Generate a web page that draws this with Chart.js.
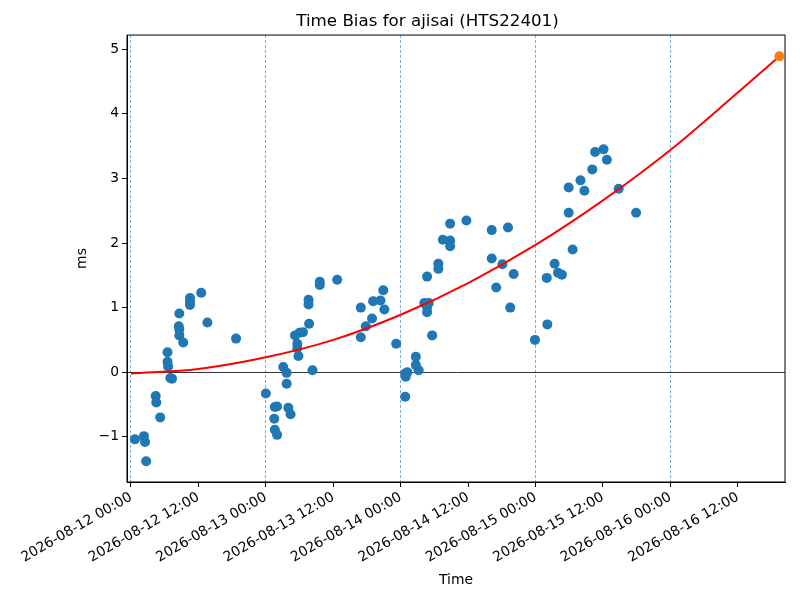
<!DOCTYPE html>
<html>
<head>
<meta charset="utf-8">
<script src="https://cdn.jsdelivr.net/npm/chart.js@4"></script>
<style>
  html, body { margin: 0; padding: 0; background: #fff; }
  #wrap { width: 800px; height: 600px; }
</style>
</head>
<body>
<div id="wrap"><canvas id="biasChart"></canvas></div>
<script>
// measured time bias samples (UTC)
const sampleTimes = [
  '2026-08-12 00:42', '2026-08-12 02:18', '2026-08-12 02:30', '2026-08-12 02:42',
  '2026-08-12 04:24', '2026-08-12 04:30', '2026-08-12 05:12', '2026-08-12 06:30',
  '2026-08-12 06:30', '2026-08-12 06:36', '2026-08-12 07:00', '2026-08-12 07:18',
  '2026-08-12 08:36', '2026-08-12 08:30', '2026-08-12 08:36', '2026-08-12 08:36',
  '2026-08-12 09:18', '2026-08-12 10:30', '2026-08-12 10:30', '2026-08-12 10:30',
  '2026-08-12 12:30', '2026-08-12 13:36', '2026-08-12 18:42',
  '2026-08-13 00:00', '2026-08-13 01:30', '2026-08-13 01:36', '2026-08-13 01:36',
  '2026-08-13 02:00', '2026-08-13 02:00', '2026-08-13 03:06', '2026-08-13 03:42',
  '2026-08-13 03:42', '2026-08-13 04:00', '2026-08-13 04:24', '2026-08-13 05:12',
  '2026-08-13 05:36', '2026-08-13 05:36', '2026-08-13 05:48', '2026-08-13 06:00',
  '2026-08-13 06:36', '2026-08-13 07:36', '2026-08-13 07:36', '2026-08-13 07:42',
  '2026-08-13 08:18', '2026-08-13 09:36', '2026-08-13 09:36', '2026-08-13 12:42',
  '2026-08-13 16:54', '2026-08-13 16:54', '2026-08-13 17:48', '2026-08-13 18:54',
  '2026-08-13 19:06', '2026-08-13 20:24', '2026-08-13 20:54', '2026-08-13 21:06',
  '2026-08-13 23:12',
  '2026-08-14 00:48', '2026-08-14 00:48', '2026-08-14 00:54', '2026-08-14 01:12',
  '2026-08-14 02:42', '2026-08-14 02:42', '2026-08-14 03:12', '2026-08-14 04:12',
  '2026-08-14 05:00', '2026-08-14 04:42', '2026-08-14 04:42', '2026-08-14 04:42',
  '2026-08-14 05:36', '2026-08-14 06:42', '2026-08-14 06:42', '2026-08-14 07:30',
  '2026-08-14 08:48', '2026-08-14 08:48', '2026-08-14 08:48', '2026-08-14 11:42',
  '2026-08-14 16:12', '2026-08-14 16:12', '2026-08-14 17:00', '2026-08-14 18:06',
  '2026-08-14 19:06', '2026-08-14 19:30', '2026-08-14 20:06', '2026-08-14 23:54',
  '2026-08-15 02:00', '2026-08-15 02:06', '2026-08-15 03:24', '2026-08-15 04:00',
  '2026-08-15 04:42', '2026-08-15 05:54', '2026-08-15 05:54', '2026-08-15 06:36',
  '2026-08-15 08:00', '2026-08-15 08:42', '2026-08-15 10:06', '2026-08-15 10:36',
  '2026-08-15 12:06', '2026-08-15 12:42', '2026-08-15 14:48', '2026-08-15 17:54'
];
const sampleBias = [
  -1.04, -0.99, -1.08, -1.38,
  -0.37, -0.47, -0.70, 0.31,
  0.16, 0.09, -0.09, -0.10,
  0.91, 0.71, 0.66, 0.57,
  0.46, 1.15, 1.09, 1.04,
  1.23, 0.77, 0.52,
  -0.33, -0.72, -0.54, -0.89,
  -0.53, -0.97, 0.08, -0.01,
  -0.18, -0.55, -0.65, 0.57,
  0.44, 0.37, 0.25, 0.61,
  0.62, 1.12, 1.05, 0.75,
  0.03, 1.40, 1.35, 1.43,
  1.00, 0.54, 0.71, 0.83,
  1.10, 1.11, 1.27, 0.97,
  0.44,
  -0.02, -0.38, -0.07, 0.00,
  0.24, 0.11, 0.03, 1.07,
  1.07, 0.93, 1.01, 1.48,
  0.57, 1.68, 1.60, 2.05,
  2.04, 1.95, 2.30, 2.35,
  2.20, 1.76, 1.31, 1.67,
  2.24, 1.00, 1.52, 0.50,
  1.46, 0.74, 1.68, 1.54,
  1.51, 2.47, 2.86, 1.90,
  2.97, 2.81, 3.14, 3.41,
  3.45, 3.29, 2.84, 2.47
];

// fitted trend
const fitTimes = [
  '2026-08-12 00:00', '2026-08-12 12:00', '2026-08-13 00:00', '2026-08-13 12:00',
  '2026-08-14 00:00', '2026-08-14 12:00', '2026-08-15 00:00', '2026-08-15 12:00',
  '2026-08-16 00:00', '2026-08-16 12:00', '2026-08-16 19:24'
];
const fitBias = [-0.02, 0.05, 0.23, 0.50, 0.89, 1.38, 1.97, 2.66, 3.44, 4.33, 4.89];

// predicted point at the end of the fit
const predTime = ['2026-08-16 19:24'];
const predBias = [4.89];

const tickTimes = [
  '2026-08-12 00:00', '2026-08-12 12:00', '2026-08-13 00:00', '2026-08-13 12:00',
  '2026-08-14 00:00', '2026-08-14 12:00', '2026-08-15 00:00', '2026-08-15 12:00',
  '2026-08-16 00:00', '2026-08-16 12:00'
];
const yTicks = [-1, 0, 1, 2, 3, 4, 5];

const HOUR = 3600000;
const toMs = s => Date.parse(s.replace(' ', 'T') + ':00Z');
const pad = n => String(n).padStart(2, '0');
const fmt = v => {
  const d = new Date(v);
  return d.getUTCFullYear() + '-' + pad(d.getUTCMonth() + 1) + '-' + pad(d.getUTCDate()) +
    ' ' + pad(d.getUTCHours()) + ':' + pad(d.getUTCMinutes());
};
const t0 = toMs(tickTimes[0]);

const frame = {
  id: 'frame',
  afterDatasetsDraw(chart) {
    const a = chart.chartArea, c = chart.ctx;
    c.save();
    c.strokeStyle = '#000';
    c.lineWidth = 1;
    c.strokeRect(a.left, a.top, a.right - a.left, a.bottom - a.top);
    c.restore();
  }
};

const font = { family: "'DejaVu Sans', sans-serif", size: 13.9 };

new Chart(document.getElementById('biasChart'), {
  type: 'scatter',
  data: {
    datasets: [
      {
        type: 'line',
        data: fitTimes.map((t, i) => ({ x: toMs(t), y: fitBias[i] })),
        borderColor: '#ff0000',
        borderWidth: 2,
        pointRadius: 0,
        cubicInterpolationMode: 'monotone',
        fill: false,
        order: 0
      },
      {
        data: sampleTimes.map((t, i) => ({ x: toMs(t), y: sampleBias[i] })),
        backgroundColor: '#1f77b4',
        borderWidth: 0,
        pointRadius: 5,
        order: 1
      },
      {
        data: predTime.map((t, i) => ({ x: toMs(t), y: predBias[i] })),
        backgroundColor: '#ff7f0e',
        borderWidth: 0,
        pointRadius: 5,
        order: -1
      }
    ]
  },
  options: {
    responsive: true,
    maintainAspectRatio: false,
    animation: false,
    layout: { padding: { left: 70, right: 15, top: 0, bottom: 11 } },
    plugins: {
      legend: { display: false },
      tooltip: { enabled: false },
      title: {
        display: true,
        text: 'Time Bias for ajisai (HTS22401)',
        color: '#000',
        font: { family: font.family, size: 16.7, weight: 'normal' },
        padding: { top: 12, bottom: 3 }
      }
    },
    scales: {
      x: {
        type: 'linear',
        min: t0 - 0.71 * HOUR,
        max: t0 + 116.4 * HOUR,
        afterBuildTicks: s => { s.ticks = tickTimes.map(t => ({ value: toMs(t) })); },
        afterFit: s => { s.height = 107; },
        ticks: {
          color: '#000',
          font: font,
          padding: 2,
          autoSkip: false,
          minRotation: 30,
          maxRotation: 30,
          callback: v => fmt(v)
        },
        grid: {
          color: c => (c.tick && (c.tick.value - t0) % (24 * HOUR) === 0) ? 'rgba(31,119,180,0.75)' : 'rgba(0,0,0,0)',
          lineWidth: 0.8,
          tickColor: '#000',
          tickLength: 5,
          tickWidth: 1
        },
        border: { display: true, color: '#000', width: 1, dash: [3, 2] },
        title: { display: true, text: 'Time', color: '#000', font: font, padding: { top: 4, bottom: 0 } }
      },
      y: {
        min: -1.70,
        max: 5.22,
        afterBuildTicks: s => { s.ticks = yTicks.map(v => ({ value: v })); },
        afterFit: s => { s.width = 57; },
        ticks: {
          color: '#000',
          font: font,
          padding: 3,
          callback: v => String(v).replace('-', '\u2212')
        },
        grid: {
          color: c => (c.tick && c.tick.value === 0) ? '#000' : 'rgba(0,0,0,0)',
          lineWidth: 0.8,
          tickColor: '#000',
          tickLength: 5,
          tickWidth: 1
        },
        border: { display: true, color: '#000', width: 1 },
        title: { display: true, text: 'ms', color: '#000', font: font, padding: 4 }
      }
    }
  },
  plugins: [frame]
});
</script>
</body>
</html>
